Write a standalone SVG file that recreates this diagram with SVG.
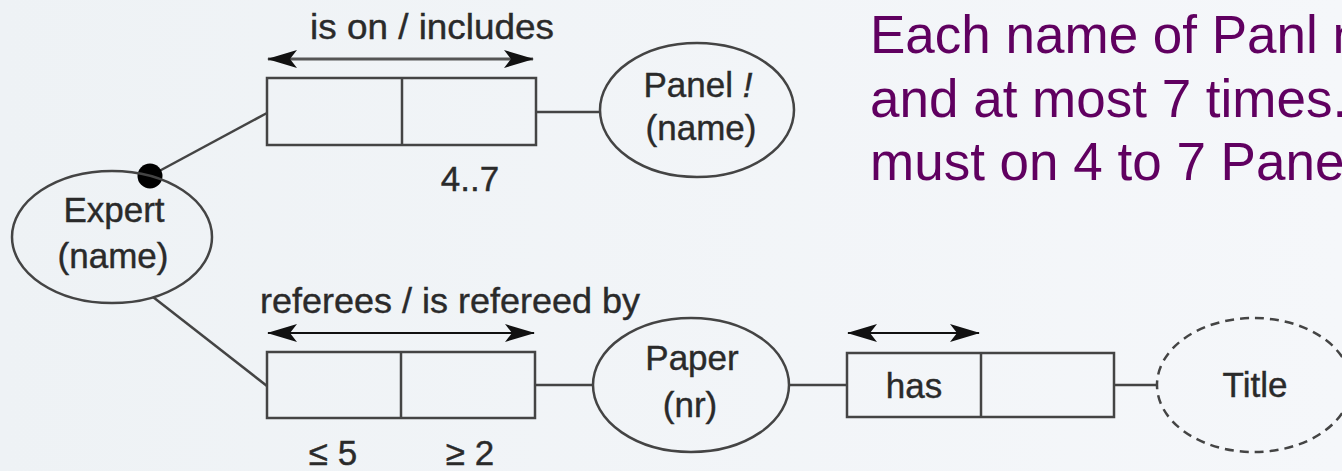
<svg xmlns="http://www.w3.org/2000/svg" width="1342" height="471" viewBox="0 0 1342 471">
<defs>
<linearGradient id="bg" x1="0" y1="0" x2="1" y2="0">
<stop offset="0" stop-color="#eef2f5"/>
<stop offset="1" stop-color="#f5f7fa"/>
</linearGradient>
<marker id="ah" viewBox="0 0 30 20" refX="29" refY="10" markerWidth="30" markerHeight="20" markerUnits="userSpaceOnUse" orient="auto-start-reverse">
<path d="M0,1 L30,10 L0,19 L7,10 Z" fill="#111"/>
</marker>
</defs>
<style>
.shape{fill:none;stroke:#444;stroke-width:2.5}
.dash{fill:none;stroke:#444;stroke-width:2.5;stroke-dasharray:9 6}
.conn{stroke:#444;stroke-width:2.5;fill:none}
.arr{stroke:#111;stroke-width:2;fill:none;marker-start:url(#ah);marker-end:url(#ah)}
.arrg{stroke:#555;stroke-width:3;fill:none;marker-start:url(#ah);marker-end:url(#ah)}
.lbl{font-family:"Liberation Sans",Arial,sans-serif;font-size:35px;fill:#2a2a2a;stroke:#2a2a2a;stroke-width:0.4;text-anchor:middle}
.note{font-family:"Liberation Sans",Arial,sans-serif;font-size:53px;fill:#600060}
</style>
<rect x="0" y="0" width="1342" height="471" fill="url(#bg)"/>

<g id="connectors">
<line class="conn" x1="150" y1="176" x2="267" y2="113"/>
<line class="conn" x1="536" y1="112" x2="600" y2="112"/>
<line class="conn" x1="153" y1="297" x2="267" y2="386"/>
<line class="conn" x1="535" y1="385" x2="593" y2="385"/>
<line class="conn" x1="789" y1="385" x2="847" y2="385"/>
<line class="conn" x1="1114" y1="385" x2="1157" y2="385"/>
<line class="arrg" x1="268" y1="59" x2="533" y2="59"/>
<line class="arr" x1="268" y1="333" x2="534" y2="333"/>
<line class="arr" x1="848" y1="333" x2="979" y2="333"/>
<circle cx="150" cy="176" r="12.5" fill="#000"/>
</g>

<g id="expert">
<ellipse class="shape" cx="112" cy="237" rx="100" ry="66"/>
<text class="lbl" x="114" y="222">Expert</text>
<text class="lbl" x="113" y="268">(name)</text>
</g>

<g id="fact-ison">
<rect class="shape" x="267" y="78" width="269" height="67"/>
<line class="shape" x1="402" y1="78" x2="402" y2="145"/>
<text class="lbl" x="432" y="39" textLength="244" lengthAdjust="spacingAndGlyphs">is on / includes</text>
<text class="lbl" x="470" y="191">4..7</text>
</g>

<g id="panel">
<ellipse class="shape" cx="697" cy="110" rx="97" ry="67"/>
<text class="lbl" x="698" y="97">Panel <tspan font-style="italic">!</tspan></text>
<text class="lbl" x="701" y="140">(name)</text>
</g>

<g id="fact-referees">
<rect class="shape" x="267" y="352" width="268" height="66"/>
<line class="shape" x1="401" y1="352" x2="401" y2="418"/>
<text class="lbl" x="450" y="313" textLength="380" lengthAdjust="spacingAndGlyphs">referees / is refereed by</text>
<text class="lbl" x="333" y="465">≤ 5</text>
<text class="lbl" x="470" y="465">≥ 2</text>
</g>

<g id="paper">
<ellipse class="shape" cx="691" cy="385" rx="98" ry="67"/>
<text class="lbl" x="692" y="370">Paper</text>
<text class="lbl" x="690" y="417">(nr)</text>
</g>

<g id="fact-has">
<rect class="shape" x="847" y="353" width="267" height="64"/>
<line class="shape" x1="981" y1="353" x2="981" y2="417"/>
<text class="lbl" x="914" y="398">has</text>
</g>

<g id="title">
<ellipse class="dash" cx="1254" cy="385" rx="97" ry="67"/>
<text class="lbl" x="1255" y="397">Title</text>
</g>

<g id="note">
<text class="note" x="870" y="53">Each name of Panl m</text>
<text class="note" x="870" y="117">and at most 7 times.</text>
<text class="note" x="870" y="180">must on 4 to 7 Pane</text>
</g>
</svg>
